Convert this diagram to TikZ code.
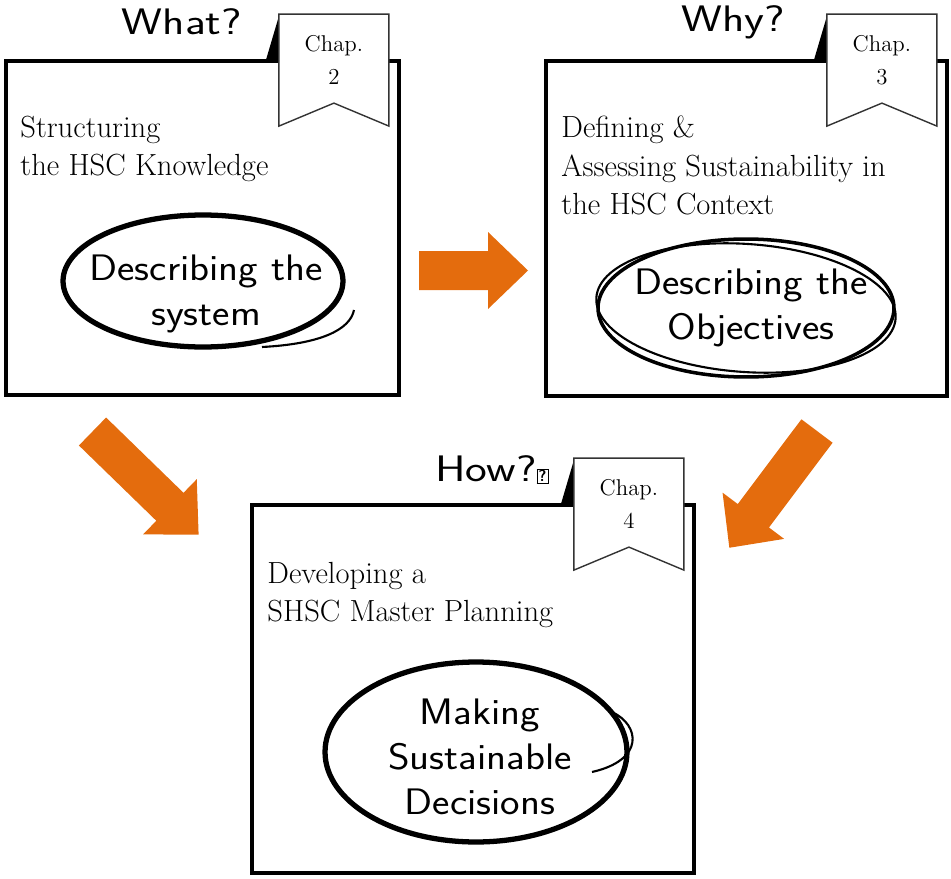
\documentclass[tikz,border=0pt]{standalone}
\usepackage{fontspec}
\usepackage{graphicx}
\usetikzlibrary{positioning}
\usetikzlibrary{shapes.geometric}
\definecolor{chaporange}{RGB}{228,108,13}
\newcommand{\wide}[1]{\scalebox{1.12}[1]{#1}}
\newcommand{\wider}[1]{\scalebox{1.25}[1]{#1}}
\tikzstyle{box}=[draw,line width=2.2pt,inner sep=0pt]
\tikzstyle{flag}=[draw=black!80,fill=white,line width=0.8pt,line join=miter]
\tikzstyle{desc}=[inner sep=0pt,align=left,anchor=north west,font=\fontsize{17.4}{22}\selectfont]
\tikzstyle{goal}=[ellipse,draw,line width=3pt,inner sep=0pt]
\tikzstyle{goaltext}=[align=center,inner sep=0pt,font=\sffamily\fontsize{21}{25.6}\selectfont]
\tikzstyle{brush} = [line width=1.2pt]
\tikzstyle{question}=[font=\sffamily\fontsize{21}{24}\selectfont]
\tikzstyle{chaptext}=[align=center,inner sep=0pt,font=\fontsize{13}{18.8}\selectfont]
\tikzstyle{bigarrow}=[fill=chaporange]

\begin{document}
\begin{tikzpicture}[x=0.02cm,y=-0.02cm]
  \useasboundingbox (0,0) rectangle (951,879);

    % the three chapter boxes
    \node[box,minimum width=7.86cm,minimum height=6.68cm] (b1) at (202.5,228) {};
    \node[box,minimum width=8.02cm,minimum height=6.70cm] (b2) at (746.5,228.5) {};
    \node[box,minimum width=8.84cm,minimum height=7.36cm] (b3) at (473,689) {};

    \foreach \name/\num in {b1/2, b2/3, b3/4} {
        \coordinate (f\num) at ([xshift=-2.44cm,yshift=0.9cm]\name.north east);
        \fill (f\num) ++(-13,46) -- ++(13,-44) -- ++(0,44) -- cycle;
        \draw[flag] (f\num) -- ++(110,0) -- ++(0,112) -- ++(-55,-23) -- ++(-55,23) -- cycle;
        \node[chaptext] (chap\num) at ([xshift=1.1cm,yshift=-0.92cm]f\num) {Chap.\\\num};
    }

    \node[question] (what) at (182,22) {\wider{What?}};
    \node[question] (why) at (733,22) {\wider{Why?}};
    \node[question] (how) at (492,470) {\wider{How?}{\setlength{\fboxsep}{0.6pt}\setlength{\fboxrule}{0.5pt}\fbox{\fontsize{9}{9}\selectfont\bfseries ?}}};

    \node[desc, below right=1.13cm and 0.32cm of b1.north west] (t1) {Structuring\\the HSC Knowledge};
    \node[desc, below right=1.13cm and 0.34cm of b2.north west] (t2) {Defining \&\\Assessing Sustainability in\\the HSC Context};
    \node[desc, below right=1.17cm and 0.34cm of b3.north west] (t3) {Developing a\\SHSC Master Planning};

    \node[goal,minimum width=5.6cm,minimum height=2.64cm] (sys) at (203,281) {};
    \node[goal,minimum width=5.92cm,minimum height=2.76cm,line width=2pt] (obj) at (746,308) {};
    \node[goal,minimum width=6.04cm,minimum height=3.6cm] (dec) at (476,752) {};
    \node[goaltext] (systext) at ([xshift=0.06cm,yshift=-0.26cm]sys) {\wide{Describing the}\\\wide{system}};
    \node[goaltext] (objtext) at ([xshift=0.1cm]obj) {\wide{Describing the}\\\wide{Objectives}};
    \node[goaltext] (dectext) at ([xshift=0.08cm,yshift=-0.1cm]dec) {\wide{Making}\\\wide{Sustainable}\\\wide{Decisions}};

    % rough brush strokes
    \draw[brush] (262,347) .. controls (320,344) and (350,330) .. (354,310);
    \draw[brush, rotate around={-4:(obj.center)}] (obj.center) ellipse [x radius=150, y radius=64];
    \draw[brush] (612,712) .. controls (640,725) and (645,760) .. (592,772);

    \foreach \x/\y/\a/\l in {419/270.5/0/109, 92.5/431.5/-44.2/148, 817/431/-126.9/146}
        \fill[bigarrow, shift={(\x,\y)}, rotate=\a] (0,-19.5) -- (\l-40,-19.5) -- (\l-40,-38.5) -- (\l,0) -- (\l-40,38.5) -- (\l-40,19.5) -- (0,19.5) -- cycle;

\end{tikzpicture}
\end{document}
